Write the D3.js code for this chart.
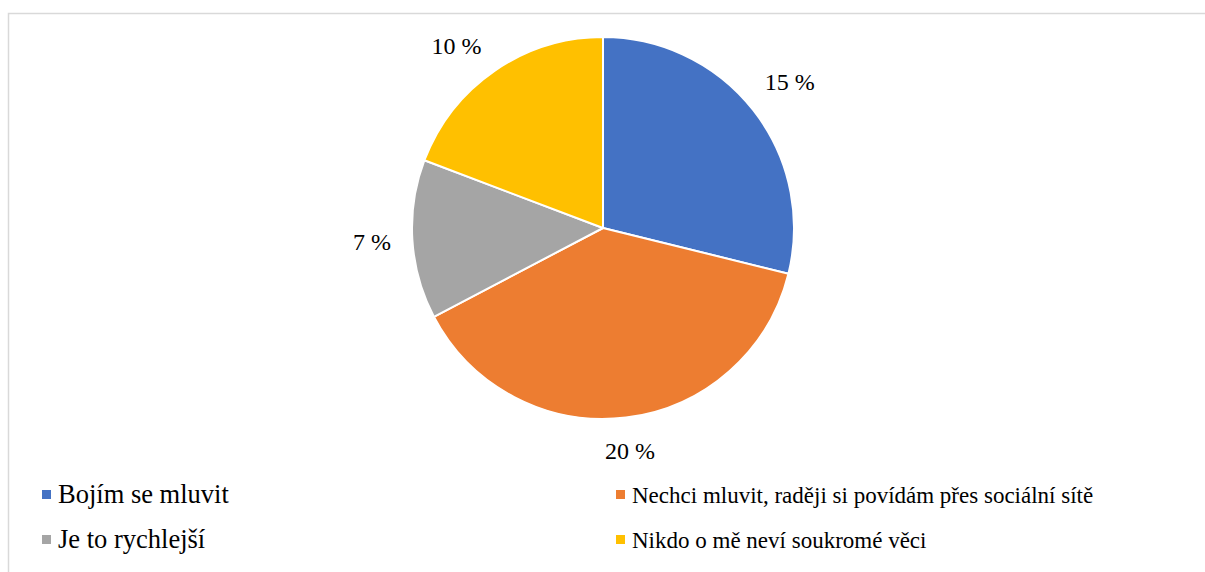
<!DOCTYPE html>
<html><head><meta charset="utf-8">
<script src="https://cdn.jsdelivr.net/npm/d3@7"></script>
<style>html,body{margin:0;padding:0;background:#fff}</style>
</head><body>
<svg id="c" width="1205" height="572"></svg>
<script>
const categories = ["Bojím se mluvit", "Nechci mluvit, raději si povídám přes sociální sítě", "Je to rychlejší", "Nikdo o mě neví soukromé věci"];
const values = [15, 20, 7, 10];
const labels = ["15 %", "20 %", "7 %", "10 %"];
const colors = ["#4472C4", "#ED7D31", "#A5A5A5", "#FFC000"];

const FONT = '"Liberation Serif"';
const svg = d3.select("#c");

// frame
svg.append("rect").attr("x", 8.5).attr("y", 13.5).attr("width", 1300).attr("height", 700)
  .attr("fill", "none").attr("stroke", "#d9d9d9").attr("stroke-width", 1.5);

const cx = 603, cy = 228, R = 191, gap = 21, capH = 18;
const plotTop = 33, labelHalfH = 13;   // labels kept inside plot area
const pie = d3.pie().sort(null).value(d => d)(values);
const arc = d3.arc().innerRadius(0).outerRadius(R);

const g = svg.append("g").attr("transform", `translate(${cx},${cy})`);
g.selectAll("path").data(pie).join("path")
  .attr("d", arc).attr("fill", (d, i) => colors[i])
  .attr("stroke", "#fff").attr("stroke-width", 2).attr("stroke-linejoin", "round");

g.selectAll("text").data(pie).join("text")
  .attr("font-size", 24)
  .style("font-family", FONT)
  .attr("text-anchor", "middle").attr("dy", "0.35em")
  .attr("fill", "#000")
  .text((d, i) => labels[i])
  .each(function(d) {
    const w = this.getComputedTextLength();
    let a = (d.startAngle + d.endAngle) / 2;
    let ux = Math.sin(a), uy = -Math.cos(a);
    const support = (w / 2) * Math.abs(ux) + (capH / 2) * Math.abs(uy);
    const r = R + gap + support;
    let x = ux * r, y = uy * r;
    const minY = plotTop + labelHalfH - cy;
    if (y < minY) {           // slide along circle to stay inside plot area
      const ca = -minY / r;
      const na = Math.acos(Math.min(1, ca));
      y = minY;
      x = Math.sign(ux) * r * Math.sin(na);
    }
    d3.select(this).attr("transform", `translate(${x},${y})`);
  });

// legend
const colX = [42, 616], rowY = [503, 548], colFont = [26.5, 23];
const lg = svg.append("g");
categories.forEach((c, i) => {
  const col = i % 2;
  const x = colX[col], y = rowY[Math.floor(i / 2)];
  lg.append("rect").attr("x", x).attr("y", y - 13).attr("width", 9).attr("height", 9).attr("fill", colors[i]);
  lg.append("text").attr("x", x + 16).attr("y", y)
    .attr("font-size", colFont[col])
    .style("font-family", FONT)
    .attr("fill", "#000").text(c);
});
</script>
</body></html>
